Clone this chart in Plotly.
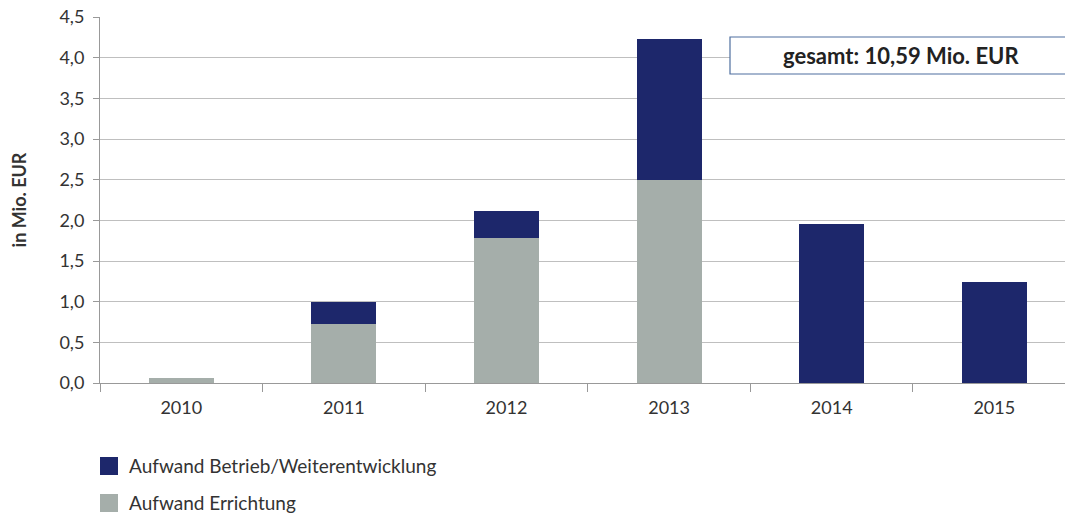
import plotly.graph_objects as go

years = ["2010", "2011", "2012", "2013", "2014", "2015"]
errichtung = [0.06, 0.73, 1.78, 2.50, 0.0, 0.0]
betrieb = [0.0, 0.27, 0.33, 1.73, 1.96, 1.24]
y_ticks = [0, 0.5, 1.0, 1.5, 2.0, 2.5, 3.0, 3.5, 4.0, 4.5]
total_label = "gesamt: 10,59 Mio. EUR"
legend_names = ["Aufwand Betrieb/Weiterentwicklung", "Aufwand Errichtung"]

FONT = "Lato"
NAVY = "#1d276b"
GRAY = "#a5aeaa"
TXT = "#333333"

W, H = 1065, 517
ML, MT, MB = 100, 17, 134
PW = W - ML
PH = H - MT - MB

fig = go.Figure()
fig.add_trace(go.Bar(x=years, y=errichtung, name=legend_names[1],
                     marker=dict(color=GRAY, line=dict(width=0)), width=0.4))
fig.add_trace(go.Bar(x=years, y=betrieb, name=legend_names[0],
                     marker=dict(color=NAVY, line=dict(width=0)), width=0.4))

fig.update_layout(
    width=W, height=H,
    barmode="stack",
    separators=",.",
    paper_bgcolor="white", plot_bgcolor="white",
    margin=dict(l=ML, r=0, t=MT, b=MB),
    font=dict(family=FONT, size=18, color=TXT),
    showlegend=False,
    xaxis=dict(type="category", range=[-0.5, 5.435], tickson="boundaries",
               ticks="outside", ticklen=8, tickcolor="#999999",
               showline=True, linecolor="#999999", linewidth=1,
               showgrid=False, tickfont=dict(size=18, color=TXT),
               ticklabelstandoff=8),
    yaxis=dict(range=[0, 4.5], tickvals=y_ticks, tickformat=".1f",
               ticks="outside", ticklen=6, tickcolor="#999999",
               showline=True, linecolor="#999999", linewidth=1,
               showgrid=True, gridcolor="#bfbfbf", gridwidth=1,
               zeroline=False, tickfont=dict(size=18, color=TXT),
               ticklabelstandoff=5,
               title=dict(text="<b>in Mio. EUR</b>", font=dict(size=18, color=TXT),
                          standoff=28)),
)

# Total box
fig.add_shape(type="rect", xref="paper", yref="paper",
              x0=(730 - ML) / PW, x1=1.02, y0=(383 - 74) / PH, y1=(383 - 37) / PH,
              line=dict(color="#4f6f9f", width=1.2), fillcolor="white", layer="above")
fig.add_annotation(xref="paper", yref="paper", x=(901 - ML) / PW, y=(383 - 55.5) / PH,
                   text="<b>" + total_label + "</b>", showarrow=False,
                   font=dict(family=FONT, size=22, color="#222222"),
                   xanchor="center", yanchor="middle")

# Legend (drawn manually for exact spacing)
for name, color, cy in zip(legend_names, [NAVY, GRAY], [466, 503]):
    fig.add_shape(type="rect", xref="paper", yref="paper",
                  x0=(100 - ML) / PW, x1=(118 - ML) / PW,
                  y0=(383 - (cy + 9)) / PH, y1=(383 - (cy - 9)) / PH,
                  line=dict(width=0), fillcolor=color)
    fig.add_annotation(xref="paper", yref="paper", x=(127 - ML) / PW, y=(383 - cy) / PH,
                       text=name, showarrow=False, xanchor="left", yanchor="middle",
                       font=dict(family=FONT, size=19, color=TXT))

fig.write_html("out.html")
